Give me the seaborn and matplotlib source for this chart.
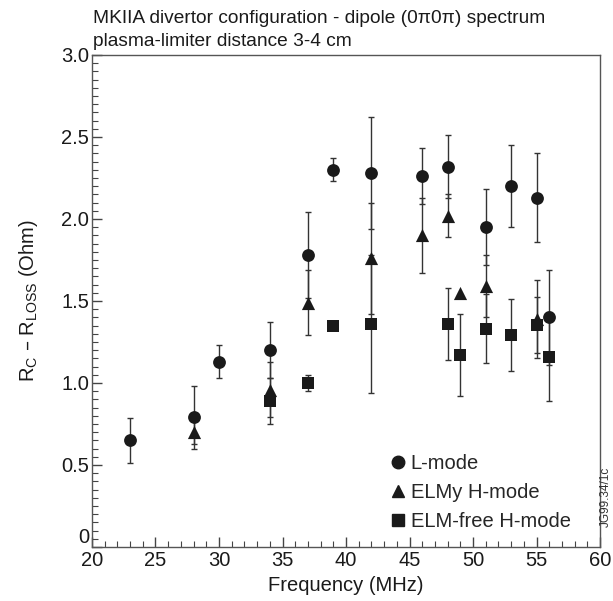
import numpy as np
import pandas as pd
import matplotlib
matplotlib.use("Agg")
import matplotlib.pyplot as plt
import seaborn as sns
from matplotlib.ticker import MultipleLocator
from matplotlib.lines import Line2D

# ---- data ----
lmode_f = [23, 28, 30, 34, 37, 39, 42, 46, 48, 51, 53, 55, 56]
lmode_v = [0.65, 0.79, 1.13, 1.20, 1.78, 2.30, 2.28, 2.26, 2.32, 1.95, 2.20, 2.13, 1.40]
lmode_e = [0.135, 0.19, 0.10, 0.17, 0.26, 0.07, 0.34, 0.17, 0.19, 0.23, 0.25, 0.27, 0.29]

elmy_f = [28, 34, 37, 42, 46, 48, 49, 51, 55]
elmy_v = [0.70, 0.96, 1.49, 1.76, 1.90, 2.02, 1.55, 1.59, 1.39]
elmy_e = [0.07, 0.17, 0.20, 0.34, 0.23, 0.13, 0.0, 0.19, 0.24]

free_f = [34, 37, 39, 42, 48, 49, 51, 53, 55, 56]
free_v = [0.89, 1.00, 1.35, 1.36, 1.36, 1.17, 1.33, 1.29, 1.355, 1.16]
free_e = [0.14, 0.05, 0.0, 0.42, 0.22, 0.25, 0.21, 0.22, 0.17, 0.27]

mode_names = ["L-mode", "ELMy H-mode", "ELM-free H-mode"]
x_ticks = [20, 25, 30, 35, 40, 45, 50, 55, 60]
y_ticks = [0, 0.5, 1.0, 1.5, 2.0, 2.5, 3.0]
y_tick_labels = ["0", "0.5", "1.0", "1.5", "2.0", "2.5", "3.0"]

df = pd.concat([
    pd.DataFrame({"f": lmode_f, "v": lmode_v, "e": lmode_e, "mode": mode_names[0]}),
    pd.DataFrame({"f": elmy_f, "v": elmy_v, "e": elmy_e, "mode": mode_names[1]}),
    pd.DataFrame({"f": free_f, "v": free_v, "e": free_e, "mode": mode_names[2]}),
], ignore_index=True)

sns.set_theme(style="white")
plt.rcParams["font.family"] = ["Liberation Sans", "DejaVu Sans"]
plt.rcParams["mathtext.default"] = "regular"

FS = 14.5
fig = plt.figure(figsize=(6.13, 6.01), dpi=100)
ax = fig.add_axes([0.150, 0.0899, 0.829, 0.8186])

ink = "#1a1a1a"
for _, r in df.iterrows():
    if r["e"] > 0:
        ax.errorbar(r["f"], r["v"], yerr=r["e"], fmt="none", ecolor="#333333",
                    elinewidth=1.0, capsize=2.5, capthick=1.0, zorder=2)

markers = {mode_names[0]: "o", mode_names[1]: "^", mode_names[2]: "s"}
sizes = {mode_names[0]: 85, mode_names[1]: 90, mode_names[2]: 75}
for m in mode_names:
    sub = df[df["mode"] == m]
    sns.scatterplot(data=sub, x="f", y="v", marker=markers[m], s=sizes[m],
                    color=ink, edgecolor=ink, linewidth=0, ax=ax, zorder=3, legend=False)

ax.set_xlim(20, 60)
ax.set_ylim(0, 3.0)
ax.set_xticks(x_ticks)
ax.set_yticks(y_ticks, labels=y_tick_labels)
ax.xaxis.set_minor_locator(MultipleLocator(1))
ax.yaxis.set_minor_locator(MultipleLocator(0.05))
ax.tick_params(axis="both", which="both", direction="in", bottom=True, left=True,
               top=False, right=False, colors="#444444", labelcolor="#1a1a1a", labelsize=FS)
ax.tick_params(axis="both", which="major", length=7, width=1)
ax.tick_params(axis="both", which="minor", length=4, width=0.8)
ax.tick_params(axis="x", pad=3)
ax.tick_params(axis="y", pad=2)
for s in ax.spines.values():
    s.set_color("#555555")
    s.set_linewidth(1.0)
    s.set_visible(True)

ax.set_xlabel("Frequency (MHz)", fontsize=FS, color="#1a1a1a", labelpad=4)
ax.set_ylabel("R$_C$ – R$_{LOSS}$ (Ohm)", fontsize=FS, color="#1a1a1a", labelpad=15)

fig.text(0.152, 0.969, "MKIIA divertor configuration - dipole (0π0π) spectrum",
         fontsize=13.8, color="#1a1a1a", ha="left", va="center")
fig.text(0.152, 0.931, "plasma-limiter distance 3-4 cm",
         fontsize=13.8, color="#1a1a1a", ha="left", va="center")
fig.text(0.989, 0.174, "JG99.34/1c", fontsize=8.5, rotation=90, color="#333333",
         ha="center", va="center")

handles = [Line2D([], [], marker=markers[m], color=ink, linestyle="none", markersize=9)
           for m in mode_names]
ax.legend(handles, mode_names, loc="lower right", bbox_to_anchor=(0.942, 0.033),
          frameon=False, fontsize=FS, handletextpad=0.15, handlelength=1.0,
          labelspacing=0.5, borderpad=0, borderaxespad=0)

fig.canvas.draw()
ax.get_yticklabels()[0].set_va("bottom")

fig.savefig("out.png", dpi=100)
